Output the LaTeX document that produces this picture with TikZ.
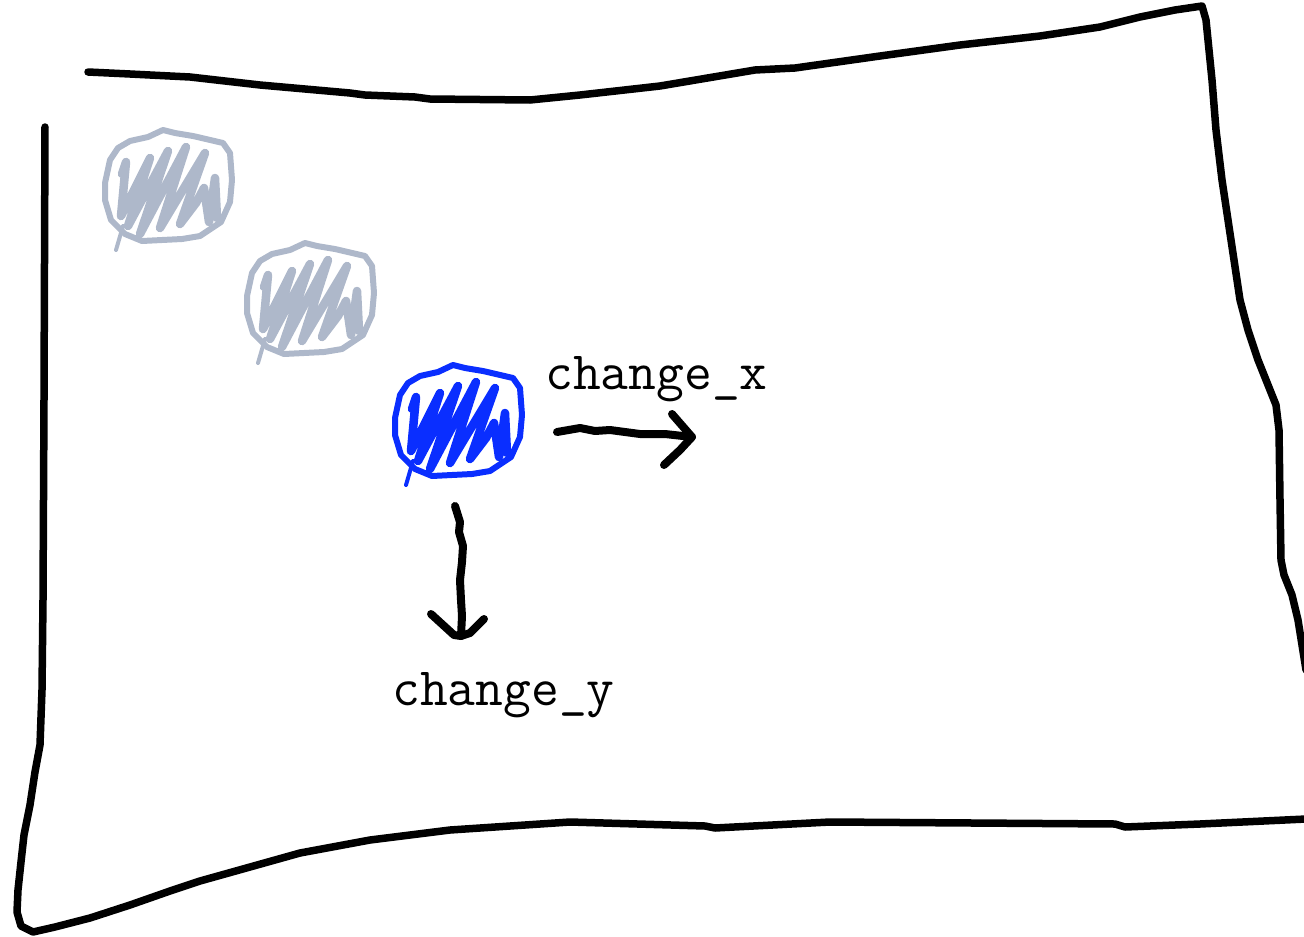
\documentclass[tikz,border=0pt]{standalone}

\begin{document}
\begin{tikzpicture}[
	x=1pt, y=-1pt,
	cornice/.style={line width=7.5pt, line cap=round, line join=round, black},
	freccia/.style={line width=8pt, line cap=round, line join=round, black},
	bordo/.style={line width=6pt, line cap=round, line join=round},
	tratteggio/.style={line width=8.5pt, line cap=round, line join=round},
	etichetta/.style={font=\fontsize{54}{64}\selectfont\ttfamily, anchor=base west, inner sep=0pt},
	]
	\definecolor{ombra}{HTML}{AEB8CA}
	\definecolor{pallina}{HTML}{0A2EFF}
	
	\useasboundingbox (0,0) rectangle (1304,937);
	
	%%=== cornice disegnata a mano ===
	% lato superiore + lato destro
	\draw[cornice] (88,72) -- (130,74) -- (190,77) -- (260,85) -- (350,93) -- (365,95)
		-- (415,97) -- (430,99) -- (530,100) -- (580,95) -- (660,86) -- (755,70)
		-- (795,68) -- (880,56) -- (960,45) -- (1040,36) -- (1100,27) -- (1140,17)
		-- (1175,10) -- (1202,6)
		-- (1206,20) -- (1212,80) -- (1216,130) -- (1222,180) -- (1228,220)
		-- (1234,260) -- (1240,300) -- (1248,330) -- (1258,360) -- (1268,385)
		-- (1276,405) -- (1279,430) -- (1280,500) -- (1281,560) -- (1284,575)
		-- (1292,595) -- (1298,620) -- (1306,670);
	% lato sinistro + lato inferiore
	\draw[cornice] (45,127) -- (44,400) -- (43,600) -- (42,690) -- (40,745)
		-- (35,772) -- (30,805) -- (24,835) -- (21,862) -- (18,890) -- (17,912)
		-- (21,926) -- (33,932) -- (55,927) -- (90,918) -- (130,905) -- (170,891)
		-- (200,881) -- (250,867) -- (300,853) -- (370,840) -- (450,830) -- (570,822)
		-- (705,826) -- (715,828) -- (830,822) -- (1115,824) -- (1125,827)
		-- (1200,824) -- (1306,819);
	
	%%=== palline (due posizioni precedenti + posizione attuale) ===
	\foreach \dx/\dy/\col in {0/0/ombra, 142/113/ombra, 290/235/pallina}{
		\begin{scope}[shift={(\dx,\dy)}, color=\col]
			% contorno
			\draw[bordo] (163,130) -- (175,133) -- (193,136) -- (223,143) -- (230,153)
				-- (232,180) -- (230,202) -- (221,222) -- (200,236) -- (182,239)
				-- (142,241) -- (125,234) -- (111,220) -- (105,200) -- (105,183)
				-- (110,160) -- (118,148) -- (130,141) -- (148,137) -- cycle;
			% tratteggio interno
			\draw[tratteggio] (122,174) -- (126,162) -- (121,216) -- (150,158)
				-- (128,226) -- (168,151) -- (140,234) -- (186,147) -- (160,228)
				-- (205,153) -- (180,224) -- (196,203) -- (204,188) -- (209,222)
				-- (215,178) -- (217,218);
			\draw[bordo, line width=4pt] (123,226) -- (116,250);
		\end{scope}
	}
	
	%%=== frecce degli spostamenti ===
	\coordinate (dxA) at (557,432);
	\coordinate (dxB) at (692,437);
	\draw[freccia] (dxA) -- (580,428) -- (595,431) -- (610,430) -- (640,434)
		-- (665,434) -- (dxB);
	\draw[freccia] (672,414) -- (dxB) -- (680,450) -- (664,465);
	
	\coordinate (dyA) at (455,506);
	\coordinate (dyB) at (461,636);
	\draw[freccia] (dyA) -- (460,522) -- (459,532) -- (463,546) -- (462,562)
		-- (460,580) -- (461,600) -- (462,616) -- (dyB);
	\draw[freccia] (431,614) -- (454,635) -- (dyB) -- (470,633) -- (484,619);
	
	% etichette
	\node[etichetta] (lx) at (545,389) {change\_x};
	\node[etichetta] (ly) at (392,705) {change\_y};
\end{tikzpicture}
\end{document}
